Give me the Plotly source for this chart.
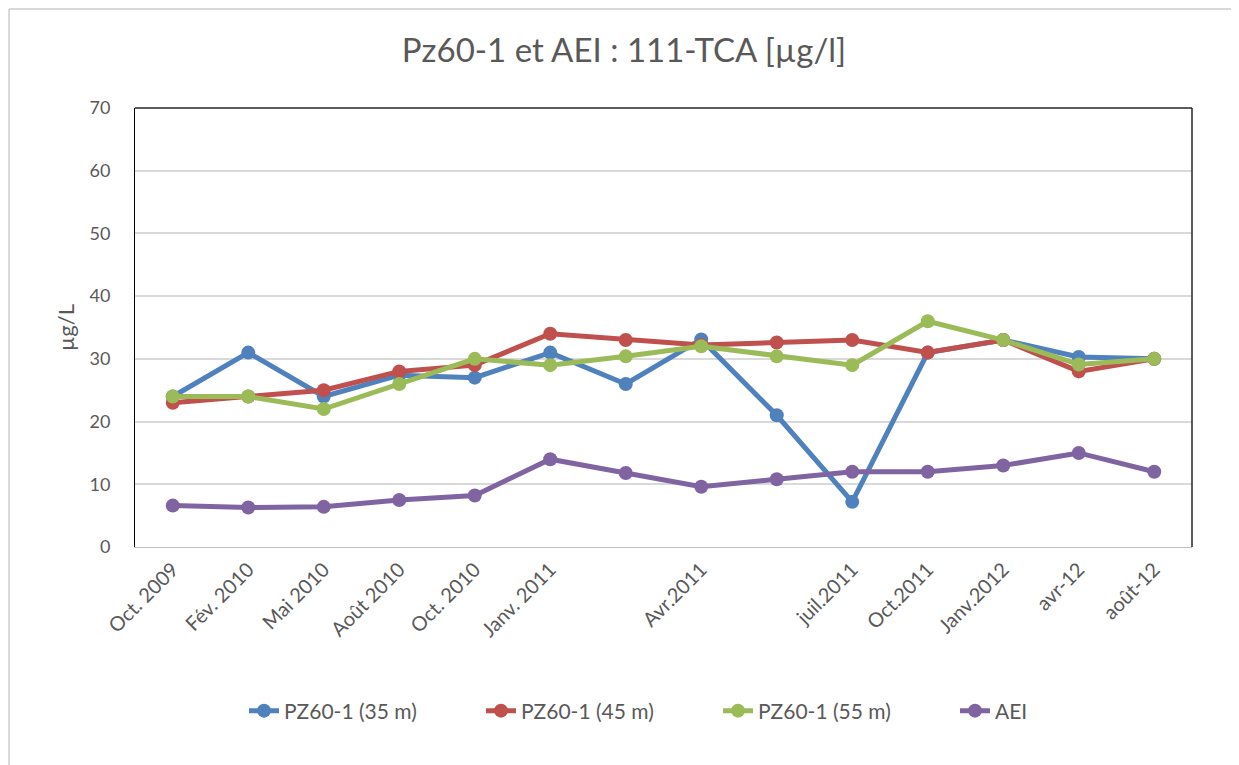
import plotly.graph_objects as go

categories = ["Oct. 2009", "Fév. 2010", "Mai 2010", "Août 2010", "Oct. 2010", "Janv. 2011", "",
              "Avr.2011", "", "juil.2011", "Oct.2011", "Janv.2012", "avr-12", "août-12"]
pz35 = [24, 31, 24, 27.4, 27, 31, 26, 33.1, 21, 7.2, 31, 33, 30.3, 30]
pz45 = [23, 24, 25, 28, 29, 34, 33, 32.2, 32.6, 33, 31, 33, 28, 30]
pz55 = [24, 24, 22, 26, 30, 29, 30.4, 32, 30.4, 29, 36, 33, 29.1, 30]
aei = [6.6, 6.3, 6.4, 7.5, 8.2, 14, 11.8, 9.6, 10.8, 12, 12, 13, 15, 12]

series = [("PZ60-1 (35 m)", pz35, "#4F81BD"),
          ("PZ60-1 (45 m)", pz45, "#C0504D"),
          ("PZ60-1 (55 m)", pz55, "#9BBB59"),
          ("AEI", aei, "#8064A2")]

FONT = "Lato, Calibri, 'Open Sans', sans-serif"
GREY = "#595959"

W, H = 1231, 757
L, R, T, B = 127, 47, 100, 218
PW, PH = W - L - R, H - T - B

xs = list(range(len(categories)))
fig = go.Figure()
for name, vals, col in series:
    fig.add_trace(go.Scatter(x=xs, y=vals, name=name, mode="lines+markers",
                             line=dict(color=col, width=5),
                             marker=dict(color=col, size=14)))

fig.update_layout(
    width=W, height=H,
    margin=dict(l=L, r=R, t=T, b=B),
    paper_bgcolor="white", plot_bgcolor="white",
    font=dict(family=FONT, color=GREY, size=17),
    title=dict(text="Pz60-1 et AEI : 111-TCA [µg/l]", x=(624 - 8) / W, xanchor="center",
               y=1 - (50 - 8) / H, yanchor="middle",
               font=dict(size=33, color=GREY, family=FONT)),
    showlegend=True,
    legend=dict(orientation="h", x=(244 - 135) / PW, xanchor="left", y=-(711 - 547) / PH,
                yanchor="middle",
                font=dict(size=21, color=GREY), entrywidth=192, entrywidthmode="pixels",
                traceorder="normal"),
    xaxis=dict(range=[-0.5, len(categories) - 0.5], tickmode="array", tickvals=xs,
               ticktext=categories, tickangle=-45, showgrid=False, zeroline=False,
               showline=True, linecolor="#bfbfbf", linewidth=1, ticks="",
               ticklabelstandoff=2,
               tickfont=dict(size=20, color=GREY), fixedrange=True),
    yaxis=dict(range=[0, 70], dtick=10, showgrid=True, gridcolor="#d9d9d9", gridwidth=1.5,
               zeroline=False, showline=True, linecolor="#000000", linewidth=1,
               ticks="", ticklabelstandoff=20, tickfont=dict(size=18, color=GREY),
               title=dict(text="µg/L", font=dict(size=22, color=GREY), standoff=8)),
)

# plot-area border (top and right) and outer chart frame
fig.add_shape(type="line", xref="paper", yref="paper", x0=0, x1=1, y0=1, y1=1,
              line=dict(color="#262626", width=1.5))
fig.add_shape(type="line", xref="paper", yref="paper", x0=1, x1=1, y0=0, y1=1,
              line=dict(color="#262626", width=1.5))
px0 = (9 - 135) / PW
py0 = (547 - 9) / PH
fig.add_shape(type="line", xref="paper", yref="paper", x0=px0, x1=px0, y0=py0, y1=-0.6,
              line=dict(color="#d9d9d9", width=2))
fig.add_shape(type="line", xref="paper", yref="paper", x0=px0, x1=1.1, y0=py0, y1=py0,
              line=dict(color="#d9d9d9", width=2))

fig.write_html("out.html")
